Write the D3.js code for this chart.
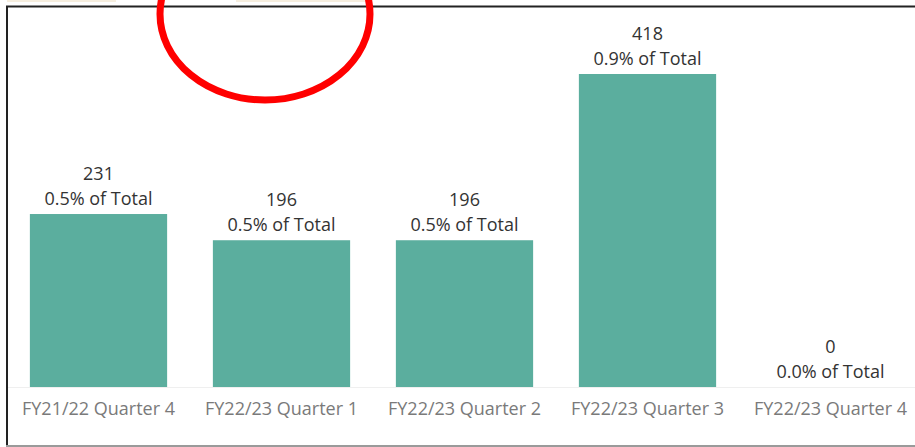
<!DOCTYPE html>
<html>
<head>
<meta charset="utf-8">
<script src="https://cdn.jsdelivr.net/npm/d3@7"></script>
<style>
  html, body { margin: 0; padding: 0; background: #fff; }
  svg { display: block; }
  text { font-family: "Open Sans", "Noto Sans", sans-serif; }
</style>
</head>
<body>
<svg id="chart" width="915" height="447"></svg>
<script>
const categories = ["FY21/22 Quarter 4", "FY22/23 Quarter 1", "FY22/23 Quarter 2", "FY22/23 Quarter 3", "FY22/23 Quarter 4"];
const values = [231, 196, 196, 418, 0];
const pctLabels = ["0.5% of Total", "0.5% of Total", "0.5% of Total", "0.9% of Total", "0.0% of Total"];

const W = 915, H = 447;
const svg = d3.select("#chart");

// top beige strips (cropped dashboard elements)
svg.append("rect").attr("x", 7).attr("y", 0).attr("width", 109).attr("height", 2).attr("fill", "#f6eedf");
svg.append("rect").attr("x", 236).attr("y", 0).attr("width", 133).attr("height", 2).attr("fill", "#f6eedf");

// frame
svg.append("line").attr("x1", 6).attr("x2", W).attr("y1", 6.5).attr("y2", 6.5).attr("stroke", "#222").attr("stroke-width", 2);
svg.append("line").attr("x1", 7).attr("x2", 7).attr("y1", 6).attr("y2", 446).attr("stroke", "#222").attr("stroke-width", 2);
svg.append("line").attr("x1", 6).attr("x2", W).attr("y1", 446).attr("y2", 446).attr("stroke", "#9a9a9a").attr("stroke-width", 2);

const x = d3.scaleBand().domain(categories).range([7, 922]).paddingInner(0.25).paddingOuter(0.125);
const y = d3.scaleLinear().domain([0, 418]).range([387, 74]);

// baseline
svg.append("line").attr("x1", 8).attr("x2", W).attr("y1", 387.5).attr("y2", 387.5).attr("stroke", "#efefef").attr("stroke-width", 1);

svg.selectAll("rect.bar").data(values).enter().append("rect")
  .attr("class", "bar")
  .attr("x", (d, i) => x(categories[i]))
  .attr("width", x.bandwidth())
  .attr("y", d => y(d))
  .attr("height", d => y(0) - y(d))
  .attr("fill", "#5bae9e");

svg.selectAll("text.val").data(values).enter().append("text")
  .attr("class", "val")
  .attr("x", (d, i) => x(categories[i]) + x.bandwidth() / 2)
  .attr("y", d => y(d) - 34.5)
  .attr("text-anchor", "middle")
  .attr("font-size", 18)
  .attr("fill", "#333")
  .text(d => d);

svg.selectAll("text.pct").data(pctLabels).enter().append("text")
  .attr("class", "pct")
  .attr("x", (d, i) => x(categories[i]) + x.bandwidth() / 2)
  .attr("y", (d, i) => y(values[i]) - 9.5)
  .attr("text-anchor", "middle")
  .attr("font-size", 18)
  .attr("fill", "#333")
  .text(d => d);

// category axis
const axis = svg.append("g").attr("transform", "translate(0,388)")
  .call(d3.axisBottom(x).tickSize(0).tickPadding(14));
axis.select(".domain").remove();
axis.selectAll("text").attr("font-size", 18).attr("fill", "#7a7a7a")
  .style("font-family", '"Open Sans", "Noto Sans", sans-serif');

// red annotation ellipse
svg.append("ellipse").attr("cx", 265).attr("cy", 14).attr("rx", 105).attr("ry", 86)
  .attr("fill", "none").attr("stroke", "#ff0000").attr("stroke-width", 7);
</script>
</body>
</html>
